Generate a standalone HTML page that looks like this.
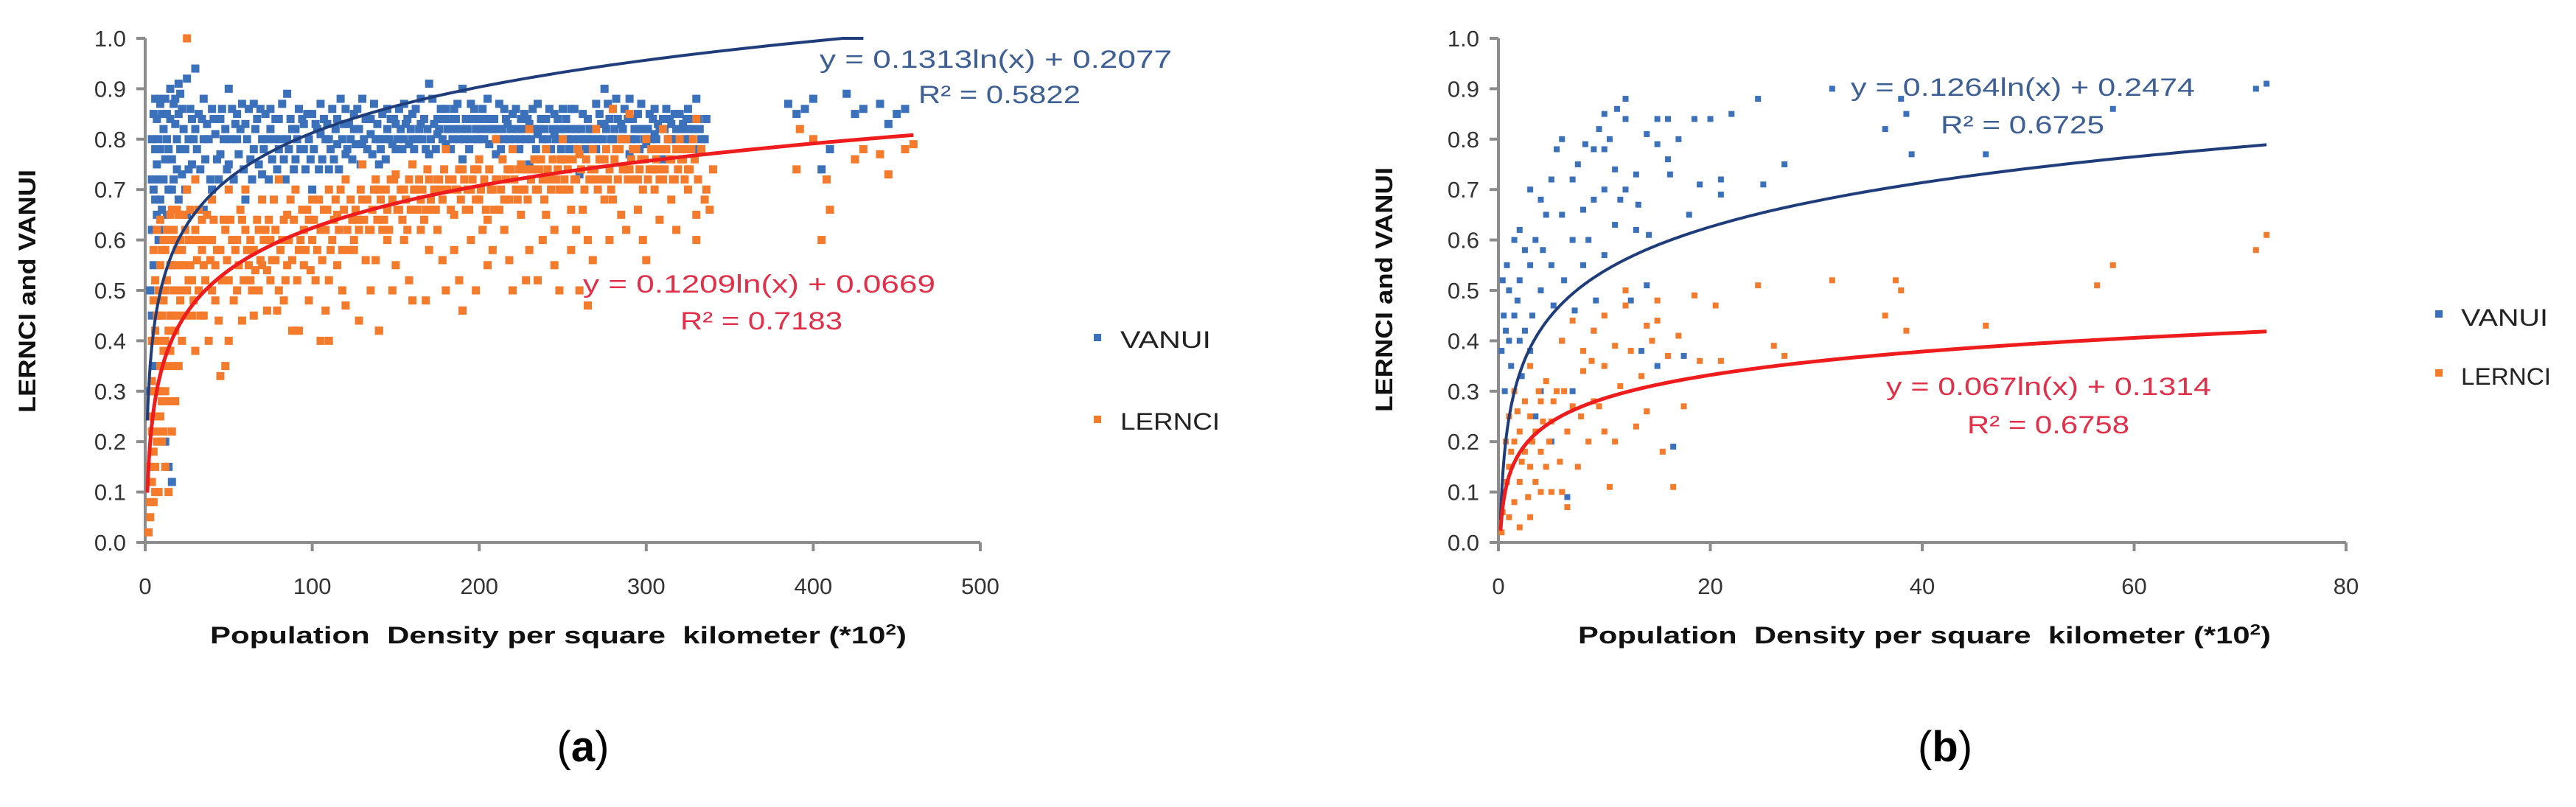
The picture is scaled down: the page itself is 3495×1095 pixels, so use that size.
<!DOCTYPE html>
<html><head><meta charset="utf-8">
<style>
html,body{margin:0;padding:0;background:#fff;}
svg{display:block;}
text{font-family:"Liberation Sans",sans-serif;}
</style></head>
<body>
<svg id="fig" width="3495" height="1095" viewBox="0 0 3495 1095" xmlns="http://www.w3.org/2000/svg">
<rect width="3495" height="1095" fill="#fff"/>
<g id="panelA"></g>
<g id="panelB"></g>
<text x="791" y="1033" text-anchor="middle" font-family="Liberation Serif, serif" font-size="58">(<tspan font-weight="bold">a</tspan>)</text>
<text x="2639" y="1033" text-anchor="middle" font-family="Liberation Serif, serif" font-size="58">(<tspan font-weight="bold">b</tspan>)</text>
</svg>
<script>
const yTicks = [0,0.1,0.2,0.3,0.4,0.5,0.6,0.7,0.8,0.9,1.0];
const yTickLabels = ["0.0","0.1","0.2","0.3","0.4","0.5","0.6","0.7","0.8","0.9","1.0"];
const xTicksA = [0,100,200,300,400,500];
const xTicksB = [0,20,40,60,80];
const fitVanuiA = [0.1313,0.2077];
const fitLernciA = [0.1209,0.0669];
const fitVanuiB = [0.1264,0.2474];
const fitLernciB = [0.067,0.1314];
const vanuiA = [3,0.3,4,0.45,5,0.55,6,0.62,5,0.7,7,0.75,8,0.8,10,0.85,12,0.88,15,0.9,20,0.91,25,0.92,30,0.94,9,0.68,11,0.72,14,0.78,18,0.83,22,0.86,26,0.8,28,0.75,13,0.65,16,0.7,8,0.6,10,0.5,12,0.2,14,0.15,16,0.12,20,0.85,24,0.78,30,0.82,35,0.88,40,0.86,45,0.84,50,0.9,55,0.85,60,0.83,65,0.87,70,0.8,75,0.86,80,0.84,85,0.89,90,0.82,95,0.78,100,0.85,105,0.87,110,0.8,115,0.84,120,0.86,125,0.82,130,0.88,135,0.84,140,0.8,145,0.86,150,0.83,155,0.87,160,0.85,165,0.88,170,0.91,175,0.84,180,0.86,185,0.82,190,0.9,195,0.87,200,0.84,205,0.88,210,0.82,215,0.86,220,0.85,225,0.8,230,0.83,235,0.87,240,0.84,245,0.81,250,0.86,255,0.82,260,0.8,265,0.84,270,0.87,275,0.9,280,0.86,285,0.83,290,0.88,295,0.85,300,0.82,305,0.86,310,0.84,315,0.8,320,0.85,325,0.82,330,0.88,335,0.8,385,0.87,390,0.85,395,0.86,400,0.88,405,0.74,410,0.78,420,0.89,425,0.85,430,0.86,440,0.87,445,0.83,450,0.85,455,0.86,30,0.72,40,0.7,50,0.75,60,0.68,70,0.73,80,0.78,90,0.76,100,0.7,110,0.74,120,0.77,130,0.79,140,0.75,150,0.78,160,0.8,170,0.77,180,0.79,190,0.76,200,0.8,210,0.77,220,0.78,230,0.75,240,0.78,250,0.76,260,0.73,270,0.78,280,0.8,290,0.77,300,0.79,310,0.76,320,0.78,35,0.8,45,0.77,55,0.8,65,0.78,75,0.82,85,0.8,95,0.83,105,0.81,115,0.79,125,0.85,135,0.81,145,0.82,155,0.8,165,0.83,175,0.81,185,0.86,195,0.8,205,0.82,215,0.8,225,0.84,235,0.81,245,0.85,255,0.86,265,0.8,275,0.83,285,0.8,295,0.82,305,0.81,315,0.83,325,0.86,20,0.68,18,0.6,22,0.73,25,0.65,15,0.55,35,0.66,4,0.62,6,0.78,7,0.84,9,0.87,3,0.5,5,0.4,6,0.35,8,0.88,11,0.82,13,0.85,17,0.87,19,0.8,21,0.89,27,0.86,32,0.85,37,0.83,42,0.81,47,0.8,52,0.86,57,0.82,62,0.86,67,0.84,72,0.85,77,0.8,82,0.87,87,0.84,92,0.86,97,0.85,102,0.83,107,0.84,112,0.86,117,0.88,122,0.83,127,0.86,132,0.84,137,0.87,142,0.85,147,0.84,152,0.86,157,0.84,162,0.86,167,0.84,172,0.88,177,0.86,182,0.84,187,0.87,192,0.84,197,0.86,202,0.86,207,0.84,212,0.87,217,0.83,222,0.86,227,0.85,232,0.86,237,0.84,242,0.86,247,0.84,252,0.84,257,0.86,262,0.85,267,0.82,272,0.85,277,0.87,282,0.88,287,0.86,292,0.84,297,0.87,302,0.85,307,0.83,312,0.86,317,0.85,322,0.83,327,0.84,332,0.82];
const vanuiA2 = [4,0.72,4,0.8,5,0.85,6,0.68,6,0.88,7,0.65,8,0.72,9,0.78,10,0.66,11,0.62,12,0.76,13,0.8,14,0.7,15,0.84,16,0.76,17,0.72,18,0.88,19,0.74,21,0.78,23,0.82,24,0.7,26,0.74,28,0.84,29,0.8,31,0.78,33,0.74,34,0.84,36,0.76,38,0.8,39,0.72,41,0.84,43,0.76,44,0.72,46,0.86,48,0.82,49,0.74,51,0.8,53,0.72,54,0.83,56,0.77,58,0.87,59,0.74,61,0.8,63,0.76,64,0.72,66,0.82,68,0.75,69,0.86,71,0.78,73,0.8,74,0.72,76,0.76,78,0.84,79,0.74,81,0.8,83,0.76,84,0.72,86,0.78,88,0.82,89,0.74,91,0.8,93,0.78,94,0.84,96,0.74,98,0.8,99,0.76,101,0.78,103,0.82,104,0.74,106,0.76,108,0.8,109,0.83,111,0.78,113,0.76,114,0.82,116,0.74,118,0.8,119,0.83,121,0.78,123,0.8,124,0.76,126,0.79,128,0.82,129,0.75,131,0.8,133,0.78,134,0.84,136,0.77,138,0.8,139,0.83,141,0.78,143,0.8,144,0.76,146,0.8,148,0.79,149,0.84,151,0.8,153,0.82,154,0.78,156,0.83,158,0.79,159,0.82,161,0.78,163,0.8,164,0.82,166,0.8,168,0.78,169,0.82,171,0.8,173,0.83,174,0.78,176,0.82,178,0.8,179,0.84,181,0.82,183,0.78,184,0.8,186,0.84,188,0.8,189,0.82,191,0.8,193,0.82,194,0.78,196,0.84,198,0.82,199,0.8,201,0.82,203,0.8,204,0.84,206,0.79,208,0.82,209,0.84,211,0.8,213,0.78,214,0.82,216,0.84,218,0.8,219,0.82,221,0.8,223,0.82,224,0.78,226,0.82,228,0.8,229,0.84,231,0.8,233,0.82,234,0.78,236,0.82,238,0.8,239,0.82,241,0.8,243,0.78,244,0.82,246,0.8,248,0.82,249,0.78,251,0.82,253,0.8,254,0.78,256,0.8,258,0.82,259,0.78,261,0.82,263,0.8,264,0.78,266,0.82,268,0.8,269,0.82,271,0.8,273,0.83,274,0.8,276,0.82,278,0.84,279,0.8,281,0.82,283,0.84,284,0.78,286,0.82,288,0.8,289,0.84,291,0.8,293,0.82,294,0.8,296,0.78,298,0.82,299,0.8,301,0.82,303,0.8,304,0.84,306,0.8,308,0.82,309,0.78,311,0.82,313,0.8,314,0.84,316,0.8,318,0.82,319,0.78,321,0.82,323,0.8,324,0.84,326,0.8,328,0.82,329,0.78,331,0.84,333,0.8,336,0.84];
const lernciA = [2,0.02,3,0.08,4,0.12,5,0.18,6,0.25,8,0.3,10,0.2,12,0.15,14,0.1,16,0.22,18,0.28,20,0.35,22,0.4,25,1.0,10,0.45,12,0.5,15,0.55,18,0.6,20,0.65,25,0.7,30,0.72,25,0.5,28,0.45,30,0.38,35,0.55,40,0.6,45,0.33,48,0.35,50,0.4,55,0.5,60,0.62,65,0.45,70,0.55,75,0.6,80,0.5,85,0.65,90,0.42,95,0.55,100,0.6,105,0.4,110,0.52,115,0.65,120,0.47,125,0.58,130,0.68,135,0.5,140,0.42,145,0.6,150,0.55,155,0.7,160,0.48,165,0.62,170,0.58,175,0.72,180,0.5,185,0.65,190,0.46,195,0.6,200,0.68,205,0.55,210,0.72,215,0.62,220,0.5,225,0.75,230,0.58,235,0.52,240,0.65,245,0.55,250,0.7,255,0.58,260,0.5,265,0.47,270,0.72,275,0.76,280,0.68,285,0.8,290,0.74,295,0.66,300,0.56,305,0.78,310,0.72,315,0.76,320,0.8,325,0.7,330,0.65,335,0.68,340,0.74,390,0.74,392,0.82,400,0.8,405,0.6,408,0.72,410,0.66,425,0.76,430,0.78,440,0.77,445,0.73,455,0.78,460,0.79,30,0.62,40,0.68,50,0.7,60,0.7,70,0.68,80,0.72,90,0.7,100,0.68,110,0.7,120,0.72,130,0.75,140,0.7,150,0.73,160,0.75,170,0.72,180,0.78,190,0.74,200,0.76,210,0.8,220,0.78,230,0.82,240,0.78,250,0.8,260,0.77,270,0.82,280,0.86,290,0.85,300,0.8,310,0.82,320,0.78,330,0.84,20,0.55,15,0.45,10,0.35,8,0.4,12,0.3,35,0.45,40,0.5,45,0.58,55,0.6,65,0.58,75,0.52,85,0.55,95,0.62,105,0.62,115,0.55,125,0.6,135,0.62,145,0.66,155,0.6,165,0.68,175,0.62,185,0.58,195,0.7,205,0.64,215,0.68,225,0.65,235,0.7,245,0.62,255,0.66,265,0.6,275,0.68,285,0.65,295,0.72,305,0.7,315,0.68,325,0.74,88,0.42,92,0.42,110,0.4,140,0.42,190,0.46,5,0.3,7,0.45,9,0.55,11,0.6,13,0.62,16,0.66,19,0.5,22,0.58,24,0.62,27,0.55,32,0.5,33,0.6,37,0.65,42,0.55,47,0.64,52,0.6,57,0.66,62,0.55,67,0.64,72,0.62,77,0.68,82,0.6,87,0.68,92,0.58,97,0.66,102,0.52,107,0.66,112,0.6,117,0.7,122,0.58,127,0.64,132,0.56,137,0.7,142,0.62,147,0.72,152,0.66,157,0.62,162,0.7,167,0.64,172,0.66,177,0.7,182,0.72,187,0.7,192,0.66,197,0.74,202,0.62,207,0.7,212,0.66,217,0.74,222,0.7,227,0.7,232,0.74,237,0.76,242,0.72,247,0.74,252,0.76,257,0.72,262,0.66,267,0.74,272,0.76,277,0.72,282,0.78,287,0.74,292,0.78,297,0.76,302,0.74,307,0.74,312,0.78,317,0.72,322,0.76,327,0.78,3,0.15,4,0.22,6,0.1,7,0.2,9,0.25,11,0.38,14,0.42,17,0.35,21,0.48,26,0.52,29,0.6,34,0.64,38,0.4,44,0.44,50,0.52,58,0.44,63,0.52,68,0.5,73,0.46,78,0.56,83,0.48,98,0.48,108,0.46,118,0.5,128,0.44,138,0.56,148,0.5,158,0.52,168,0.48,178,0.56,188,0.52,198,0.5,208,0.58,218,0.56,228,0.52,238,0.6,248,0.5,258,0.62,268,0.56,278,0.6,288,0.62,298,0.6,308,0.64,318,0.62,330,0.6];
const lernciA2 = [3,0.05,3,0.25,4,0.32,4,0.4,5,0.08,5,0.48,5,0.58,6,0.15,6,0.42,6,0.52,7,0.3,7,0.62,8,0.1,8,0.22,8,0.5,9,0.35,9,0.45,9,0.64,10,0.28,10,0.58,11,0.22,11,0.48,12,0.4,12,0.58,13,0.35,13,0.52,14,0.28,14,0.6,15,0.38,15,0.65,16,0.45,16,0.55,17,0.5,17,0.62,18,0.42,19,0.58,19,0.66,20,0.45,21,0.6,22,0.5,23,0.55,23,0.65,24,0.45,26,0.6,27,0.66,28,0.52,29,0.48,31,0.56,32,0.66,33,0.45,34,0.58,36,0.52,37,0.6,39,0.56,41,0.64,42,0.48,43,0.58,46,0.52,48,0.62,49,0.56,51,0.64,53,0.48,54,0.58,56,0.55,58,0.64,59,0.52,61,0.58,63,0.6,64,0.5,66,0.54,68,0.62,69,0.56,71,0.6,73,0.54,74,0.64,76,0.56,78,0.62,79,0.46,81,0.58,83,0.64,84,0.52,86,0.6,88,0.56,89,0.64,91,0.52,93,0.6,94,0.66,96,0.58,98,0.64,99,0.54,101,0.64,103,0.58,104,0.68,106,0.56,108,0.62,109,0.66,111,0.58,113,0.64,114,0.68,116,0.62,118,0.58,119,0.66,121,0.62,123,0.68,124,0.64,126,0.66,128,0.62,129,0.7,131,0.64,133,0.68,134,0.62,136,0.66,138,0.72,139,0.64,141,0.68,143,0.64,144,0.7,146,0.62,148,0.68,149,0.72,151,0.66,153,0.7,154,0.64,156,0.68,158,0.72,159,0.66,161,0.7,163,0.66,164,0.72,166,0.7,168,0.66,169,0.74,171,0.68,173,0.7,174,0.66,176,0.72,178,0.68,179,0.74,181,0.7,183,0.66,184,0.72,186,0.7,188,0.74,189,0.68,191,0.72,193,0.7,194,0.66,196,0.72,198,0.68,199,0.74,201,0.7,203,0.72,204,0.66,206,0.74,208,0.7,209,0.66,211,0.72,213,0.7,214,0.76,216,0.72,218,0.68,219,0.74,221,0.72,223,0.68,224,0.74,226,0.7,228,0.74,229,0.68,231,0.72,233,0.76,234,0.7,236,0.74,238,0.72,239,0.68,241,0.74,243,0.7,244,0.76,246,0.72,248,0.7,249,0.76,251,0.72,253,0.74,254,0.7,256,0.76,258,0.72,259,0.78,261,0.74,263,0.7,264,0.76,266,0.72,268,0.78,269,0.74,271,0.7,273,0.76,274,0.72,276,0.78,278,0.74,279,0.7,281,0.76,283,0.72,284,0.78,286,0.74,288,0.8,289,0.72,291,0.76,293,0.72,294,0.78,296,0.74,298,0.7,299,0.76,301,0.72,303,0.78,304,0.74,306,0.76,308,0.72,309,0.78,311,0.74,313,0.8,314,0.76,316,0.72,318,0.78,319,0.74,321,0.76,323,0.72,324,0.78,326,0.74,328,0.8,329,0.76,331,0.72,333,0.78,336,0.7,338,0.66];
const vanuiB = [0.5,0.45,0.6,0.3,0.8,0.55,1,0.5,1,0.4,1.2,0.35,1.5,0.6,1.5,0.45,2,0.62,2,0.52,2,0.4,2.5,0.58,2.5,0.42,3,0.7,3,0.55,3,0.38,3.5,0.6,3.5,0.25,4,0.68,4,0.5,4,0.3,4.5,0.65,5,0.72,5,0.55,5,0.2,5.5,0.78,6,0.8,6,0.65,6,0.4,6.5,0.09,7,0.72,7,0.6,7,0.3,7.5,0.75,8,0.66,8,0.55,8.5,0.6,9,0.78,9,0.68,9,0.42,9.5,0.82,10,0.85,10,0.78,10,0.7,10,0.57,10.5,0.8,11,0.74,11,0.63,11.5,0.68,12,0.88,12,0.84,12,0.7,12.5,0.48,13,0.73,13,0.62,13.5,0.38,14,0.81,14,0.51,15,0.84,15,0.79,15,0.35,16,0.84,16,0.76,16.5,0.19,17,0.8,17.5,0.37,18,0.65,18.5,0.84,19,0.71,20,0.84,21,0.72,21,0.69,22,0.85,24.5,0.88,25,0.71,27,0.75,31.5,0.9,36.5,0.82,38,0.88,38.5,0.85,39,0.77,46,0.77,58,0.86,71.5,0.9,72.5,0.91,0.3,0.38,0.4,0.52,0.7,0.42,1.8,0.48,2.2,0.33,3.2,0.45,4.2,0.58,5.2,0.47,6.2,0.52,7.2,0.46,8.2,0.79,9.2,0.48,11.2,0.86,13.2,0.67,14.2,0.61,16.2,0.73];
const lernciB = [0.3,0.02,0.5,0.1,0.7,0.2,1,0.05,1,0.15,1,0.25,1.5,0.08,1.5,0.2,1.5,0.3,2,0.12,2,0.22,2,0.03,2.5,0.18,2.5,0.28,3,0.05,3,0.15,3,0.25,3,0.35,3.5,0.12,3.5,0.22,4,0.1,4,0.18,4,0.28,4.5,0.15,4.5,0.32,5,0.1,5,0.24,5.5,0.3,6,0.1,6,0.4,6.5,0.07,6.5,0.22,7,0.44,7,0.27,7.5,0.15,8,0.34,8,0.38,8.5,0.2,9,0.42,9,0.28,9.5,0.27,10,0.45,10,0.35,10,0.22,10.5,0.11,11,0.39,11,0.2,11.5,0.31,12,0.5,12,0.47,12.5,0.38,13,0.23,13.5,0.33,14,0.26,14,0.43,14.5,0.4,15,0.48,15,0.44,15.5,0.18,16,0.37,16.5,0.11,17,0.41,17.5,0.27,18.5,0.49,19,0.36,20.5,0.47,21,0.36,24.5,0.51,26,0.39,27,0.37,31.5,0.52,36.5,0.45,37.5,0.52,38,0.5,38.5,0.42,46,0.43,56.5,0.51,58,0.55,71.5,0.58,72.5,0.61,0.4,0.06,0.8,0.12,1.2,0.18,1.8,0.26,2.2,0.16,2.8,0.09,3.2,0.2,3.8,0.3,4.2,0.24,4.8,0.2,5.2,0.28,5.8,0.16,6.2,0.3,7.8,0.25,8.8,0.36];
const ns = "http://www.w3.org/2000/svg";
function mk(tag, attrs, parent){const e=document.createElementNS(ns,tag);for(const k in attrs)e.setAttribute(k,attrs[k]);parent.appendChild(e);return e;}

function drawPanel(g, cfg){
  const {x0,x1,y0,y1,xMax,xTicks,vanui,lernci,fitV,fitL,fitVEnd,fitLEnd,ms} = cfg;
  const sx = v => x0 + (x1-x0)*v/xMax;
  const sy = v => y0 - (y0-y1)*v;
  const ya = mk('line',{x1:x0,y1:y1,x2:x0,y2:y0,stroke:'#8c8c8c','stroke-width':4},g);
   
  const xa = mk('line',{x1:x0-12,y1:y0,x2:x1,y2:y0,stroke:'#8c8c8c','stroke-width':4},g);
   
  yTicks.forEach((t,i)=>{
    const tk = mk('line',{x1:x0-12,y1:sy(t),x2:x0,y2:sy(t),stroke:'#8c8c8c','stroke-width':4},g);
     
    const lb = mk('text',{x:x0-26,y:sy(t)+11,'text-anchor':'end','font-size':31,fill:'#333'},g);
     
    lb.textContent = yTickLabels[i];
  });
  xTicks.forEach(t=>{
    const tk = mk('line',{x1:sx(t),y1:y0,x2:sx(t),y2:y0+12,stroke:'#8c8c8c','stroke-width':4},g);
     
    const lb = mk('text',{x:sx(t),y:y0+70,'text-anchor':'middle','font-size':31,fill:'#333'},g);
     
    lb.textContent = String(t);
  });
  const h = ms/2;
  vanui.forEach(arr=>{
    for(let i=0;i<arr.length;i+=2){
      const c = mk('rect',{x:sx(arr[i])-h,y:sy(arr[i+1])-h,width:ms,height:ms,fill:'#3b70ba'},g);
       
    }
  });
  lernci.forEach(arr=>{
    for(let i=0;i<arr.length;i+=2){
      const c = mk('rect',{x:sx(arr[i])-h,y:sy(arr[i+1])-h,width:ms,height:ms,fill:'#f47a2c'},g);
       
    }
  });
  function fitPath(f, xs, xe){
    let d='';
    for(let k=0;k<=200;k++){
      const xv = xs*Math.pow(xe/xs,k/200);
      const yv = Math.min(1.0, f[0]*Math.log(xv)+f[1]);
      d += (k?'L':'M')+sx(xv).toFixed(1)+','+sy(Math.max(0,yv)).toFixed(1);
    }
    return d;
  }
  const tv = mk('path',{d:fitPath(fitV,cfg.fitStart,fitVEnd),fill:'none',stroke:'#1f3d7a','stroke-width':4},g);
   
  const tl = mk('path',{d:fitPath(fitL,cfg.fitStart,fitLEnd),fill:'none',stroke:'#ee1c1c','stroke-width':5},g);
   
}

function addText(g, name, x, y, str, opts){
  const t = mk('text',Object.assign({x:x,y:y},opts),g);
  
  
  t.innerHTML = str;
  return t;
}

const gA = document.getElementById('panelA');
drawPanel(gA,{x0:197,x1:1330,y0:736,y1:52,xMax:500,xTicks:xTicksA,vanui:[vanuiA,vanuiA2],lernci:[lernciA,lernciA2],fitV:fitVanuiA,fitL:fitLernciA,fitVEnd:430,fitLEnd:460,fitStart:1.3,ms:11});
addText(gA,'vanui-equation-a',1112,92,'y = 0.1313ln(x) + 0.2077',{'font-size':34,fill:'#3d5f94',textLength:478,lengthAdjust:'spacingAndGlyphs'});
addText(gA,'vanui-r2-a',1246,140,'R² = 0.5822',{'font-size':34,fill:'#3d5f94',textLength:220,lengthAdjust:'spacingAndGlyphs'});
addText(gA,'lernci-equation-a',791,397,'y = 0.1209ln(x) + 0.0669',{'font-size':34,fill:'#e0304a',textLength:478,lengthAdjust:'spacingAndGlyphs'});
addText(gA,'lernci-r2-a',923,447,'R² = 0.7183',{'font-size':34,fill:'#e0304a',textLength:220,lengthAdjust:'spacingAndGlyphs'});
addText(gA,'x-axis-title-a',285,873,'Population&#160; Density per square&#160; kilometer (*10<tspan font-size="20" dy="-12">2</tspan><tspan dy="12">)</tspan>',{'font-size':32,'font-weight':'bold',fill:'#111',textLength:945,lengthAdjust:'spacingAndGlyphs'});
addText(gA,'y-axis-title-a',0,0,'LERNCI and VANUI',{'font-size':32,'font-weight':'bold',fill:'#111','text-anchor':'middle',transform:'translate(48,395) rotate(-90)',textLength:330,lengthAdjust:'spacingAndGlyphs'});
const la1=mk('rect',{x:1484,y:453,width:10,height:10,fill:'#3b70ba'},gA);
 
addText(gA,'legend-vanui-label',1520,472,'VANUI',{'font-size':32,fill:'#222',textLength:123,lengthAdjust:'spacingAndGlyphs'});
const la2=mk('rect',{x:1484,y:564,width:10,height:10,fill:'#f47a2c'},gA);
 
addText(gA,'legend-lernci-label',1520,583,'LERNCI',{'font-size':32,fill:'#222',textLength:135,lengthAdjust:'spacingAndGlyphs'});

const gB = document.getElementById('panelB');
drawPanel(gB,{x0:2033,x1:3183,y0:736,y1:52,xMax:80,xTicks:xTicksB,vanui:[vanuiB],lernci:[lernciB],fitV:fitVanuiB,fitL:fitLernciB,fitVEnd:72.5,fitLEnd:72.5,fitStart:0.2,ms:8});
addText(gB,'vanui-equation-b',2511,130,'y = 0.1264ln(x) + 0.2474',{'font-size':34,fill:'#3d5f94',textLength:467,lengthAdjust:'spacingAndGlyphs'});
addText(gB,'vanui-r2-b',2633,181,'R² = 0.6725',{'font-size':34,fill:'#3d5f94',textLength:222,lengthAdjust:'spacingAndGlyphs'});
addText(gB,'lernci-equation-b',2559,536,'y = 0.067ln(x) + 0.1314',{'font-size':34,fill:'#e0304a',textLength:441,lengthAdjust:'spacingAndGlyphs'});
addText(gB,'lernci-r2-b',2669,588,'R² = 0.6758',{'font-size':34,fill:'#e0304a',textLength:220,lengthAdjust:'spacingAndGlyphs'});
addText(gB,'x-axis-title-b',2141,873,'Population&#160; Density per square&#160; kilometer (*10<tspan font-size="20" dy="-12">2</tspan><tspan dy="12">)</tspan>',{'font-size':32,'font-weight':'bold',fill:'#111',textLength:940,lengthAdjust:'spacingAndGlyphs'});
addText(gB,'y-axis-title-b',0,0,'LERNCI and VANUI',{'font-size':32,'font-weight':'bold',fill:'#111','text-anchor':'middle',transform:'translate(1889,393) rotate(-90)',textLength:332,lengthAdjust:'spacingAndGlyphs'});
const lb1=mk('rect',{x:3304,y:421,width:10,height:10,fill:'#3b70ba'},gB);
 
addText(gB,'legend-vanui-label',3339,442,'VANUI',{'font-size':32,fill:'#222',textLength:118,lengthAdjust:'spacingAndGlyphs'});
const lb2=mk('rect',{x:3304,y:501,width:10,height:10,fill:'#f47a2c'},gB);
 
addText(gB,'legend-lernci-label',3339,522,'LERNCI',{'font-size':32,fill:'#222',textLength:122,lengthAdjust:'spacingAndGlyphs'});
</script>
</body></html>
